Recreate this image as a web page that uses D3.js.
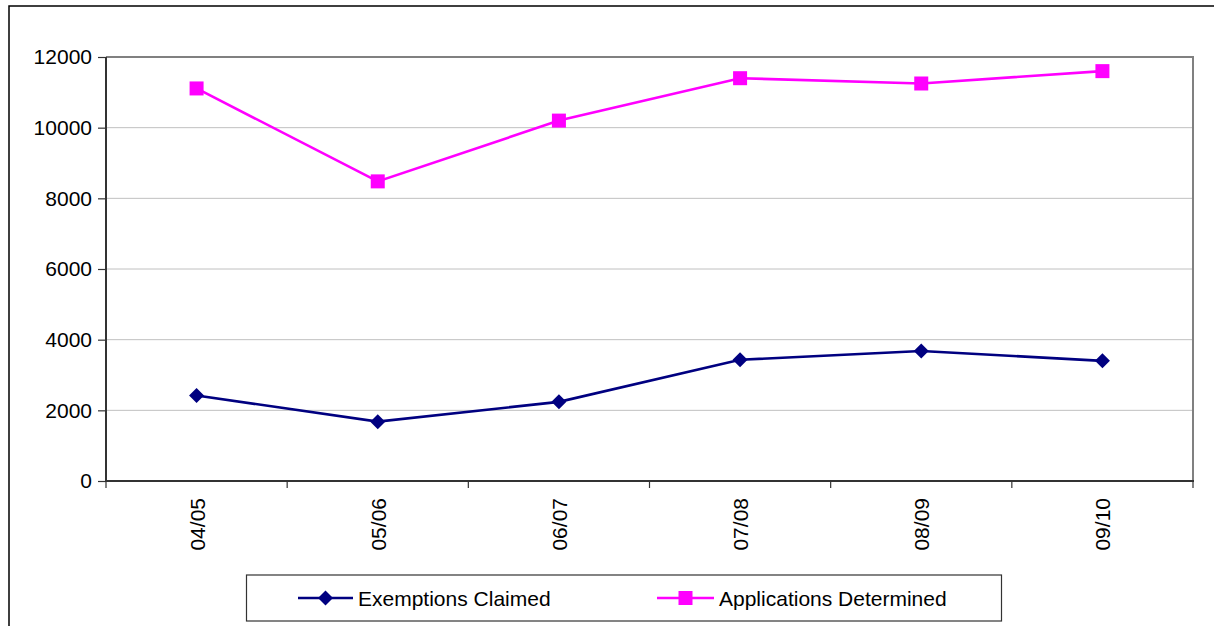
<!DOCTYPE html>
<html>
<head>
<meta charset="utf-8">
<script src="https://cdn.jsdelivr.net/npm/d3@7"></script>
<style>
  html, body { margin: 0; padding: 0; background: #fff; }
  svg { display: block; font-family: Arial, "Liberation Sans", sans-serif; }
</style>
</head>
<body>
<svg id="chart" width="1214" height="626"></svg>
<script>
// Financial years on the category axis
const years = ["04/05", "05/06", "06/07", "07/08", "08/09", "09/10"];
// Series values per year
const exemptionsClaimed = [2420, 1680, 2240, 3430, 3680, 3400];
const applicationsDetermined = [11110, 8480, 10200, 11400, 11250, 11600];
// Value axis ticks
const yTicks = [0, 2000, 4000, 6000, 8000, 10000, 12000];

const series = [
  { name: "Exemptions Claimed", values: exemptionsClaimed, color: "#000080", marker: "diamond" },
  { name: "Applications Determined", values: applicationsDetermined, color: "#ff00ff", marker: "square" }
];

const svg = d3.select("#chart");
const plot = { left: 106, top: 57, right: 1193, bottom: 481 };

// Outer frame
svg.append("rect")
  .attr("x", 9).attr("y", 6)
  .attr("width", 1230).attr("height", 650)
  .attr("fill", "none").attr("stroke", "#000").attr("stroke-width", 1.5);

const x = d3.scaleBand().domain(years).range([plot.left, plot.right]);
const y = d3.scaleLinear().domain([0, 12000]).range([plot.bottom, plot.top]);

// Horizontal gridlines
svg.append("g").selectAll("line")
  .data(yTicks.filter(t => t > 0 && t < 12000))
  .join("line")
  .attr("x1", plot.left).attr("x2", plot.right)
  .attr("y1", d => y(d)).attr("y2", d => y(d))
  .attr("stroke", "#c0c0c0").attr("stroke-width", 1);

// Plot border: top and right in grey
svg.append("path")
  .attr("d", `M${plot.left},${plot.top}H${plot.right}V${plot.bottom}`)
  .attr("fill", "none").attr("stroke", "#808080").attr("stroke-width", 2);

// Value axis
const yAxis = svg.append("g")
  .attr("transform", `translate(${plot.left},0)`)
  .call(d3.axisLeft(y).tickValues(yTicks).tickFormat(d3.format("d")).tickSize(8).tickPadding(6));
yAxis.select(".domain").attr("stroke", "#333").attr("stroke-width", 2).attr("d", `M0,${plot.top}V${plot.bottom}`);
yAxis.selectAll(".tick line").attr("stroke", "#333").attr("stroke-width", 1.2);
yAxis.selectAll("text").attr("font-size", 21).attr("fill", "#000")
  .attr("font-family", "Arial, 'Liberation Sans', sans-serif");

// Category axis: ticks on band boundaries
const xAxisG = svg.append("g");
xAxisG.append("line")
  .attr("x1", plot.left - 1).attr("x2", plot.right + 1)
  .attr("y1", plot.bottom).attr("y2", plot.bottom)
  .attr("stroke", "#333").attr("stroke-width", 2);
const bounds = years.map(d => x(d)).concat([x(years[years.length - 1]) + x.bandwidth()]);
xAxisG.selectAll(".xt").data(bounds).join("line")
  .attr("class", "xt")
  .attr("x1", d => d).attr("x2", d => d)
  .attr("y1", plot.bottom).attr("y2", plot.bottom + 7)
  .attr("stroke", "#333").attr("stroke-width", 1.2);
xAxisG.selectAll("text").data(years).join("text")
  .attr("transform", d => `translate(${x(d) + x.bandwidth() / 2 + 8},${plot.bottom + 17}) rotate(-90)`)
  .attr("text-anchor", "end")
  .attr("font-size", 21)
  .attr("fill", "#000")
  .text(d => d);

const cx = (d, i) => x(years[i]) + x.bandwidth() / 2;

function drawMarker(g, type, color) {
  if (type === "diamond") {
    g.append("path").attr("d", "M0,-7.5L7.5,0L0,7.5L-7.5,0Z").attr("fill", color);
  } else {
    g.append("rect").attr("x", -7).attr("y", -7).attr("width", 14).attr("height", 14).attr("fill", color);
  }
}

const line = d3.line().x(cx).y(d => y(d));

series.forEach(s => {
  svg.append("path")
    .attr("d", line(s.values))
    .attr("fill", "none")
    .attr("stroke", s.color)
    .attr("stroke-width", 2.6);
  s.values.forEach((v, i) => {
    const g = svg.append("g").attr("transform", `translate(${cx(v, i)},${y(v)})`);
    drawMarker(g, s.marker, s.color);
  });
});

// Legend
const legend = svg.append("g");
legend.append("rect")
  .attr("x", 246.5).attr("y", 575).attr("width", 755).attr("height", 46)
  .attr("fill", "#fff").attr("stroke", "#333").attr("stroke-width", 1.2);
const legendItems = [
  { s: series[0], x0: 298, x1: 353, tx: 358 },
  { s: series[1], x0: 657, x1: 714, tx: 719 }
];
legendItems.forEach(it => {
  const ly = 598;
  legend.append("line")
    .attr("x1", it.x0).attr("x2", it.x1).attr("y1", ly).attr("y2", ly)
    .attr("stroke", it.s.color).attr("stroke-width", 2.6);
  const g = legend.append("g").attr("transform", `translate(${(it.x0 + it.x1) / 2},${ly})`);
  drawMarker(g, it.s.marker, it.s.color);
  legend.append("text")
    .attr("x", it.tx).attr("y", ly + 7.5)
    .attr("font-size", 21).attr("fill", "#000")
    .text(it.s.name);
});
</script>
</body>
</html>
